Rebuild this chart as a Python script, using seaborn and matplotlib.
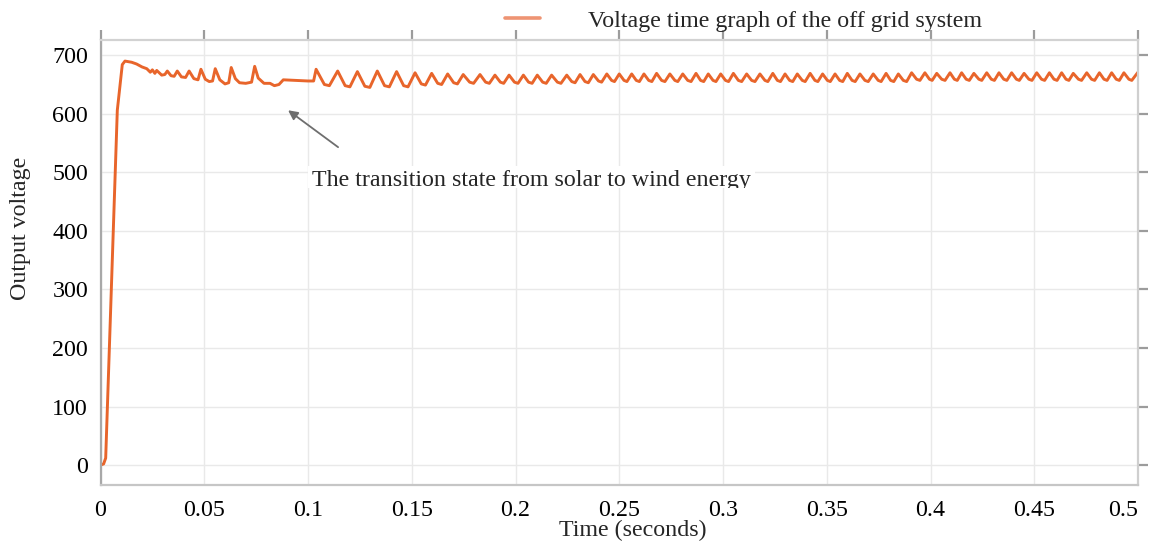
import matplotlib
matplotlib.use("Agg")
import matplotlib.pyplot as plt
import pandas as pd
import seaborn as sns
from matplotlib.transforms import Bbox, TransformedBbox

# ---------------- data ----------------
startup_t = [0.0, 0.0015, 0.0025, 0.0081, 0.0105, 0.0118, 0.0150, 0.0174, 0.0200, 0.0223,
             0.0240, 0.0250, 0.0262, 0.0271, 0.0295, 0.0310, 0.0322, 0.0340, 0.0355, 0.0370,
             0.0390, 0.0410, 0.0427, 0.0450, 0.0470, 0.0484, 0.0505, 0.0524, 0.0540, 0.0553,
             0.0575, 0.0600, 0.0618, 0.0630, 0.0650, 0.0670, 0.0700, 0.0728, 0.0743, 0.0760,
             0.0788, 0.0817, 0.0838, 0.0860, 0.0881, 0.0945, 0.1000, 0.1027]
startup_v = [0, 2, 12, 606, 684, 690, 688, 685, 680, 677,
             671, 675, 669, 674, 666, 667, 673, 665, 664, 673,
             663, 662, 673, 660, 658, 676, 659, 655, 656, 677,
             658, 651, 653, 679, 660, 653, 652, 654, 681, 661,
             652, 652, 648, 650, 658, 657, 656, 656]

peak_t = [0.1039, 0.1143, 0.1238, 0.1334, 0.1427, 0.1516, 0.1596, 0.1673, 0.1748, 0.1829,
          0.1901, 0.1969, 0.2038, 0.2105, 0.2174, 0.2247, 0.2311, 0.2375, 0.2440, 0.2500,
          0.2560, 0.2619, 0.2680, 0.2744, 0.2806, 0.2870, 0.2929, 0.2989, 0.3050, 0.3114,
          0.3178, 0.3240, 0.3299, 0.3358, 0.3420, 0.3480, 0.3540, 0.3599, 0.3660, 0.3724,
          0.3786, 0.3845, 0.3909, 0.3973, 0.4030, 0.4094, 0.4150, 0.4209, 0.4271, 0.4330,
          0.4391, 0.4451, 0.4512, 0.4573, 0.4632, 0.4688, 0.4753, 0.4814, 0.4873, 0.4932,
          0.5000]
peak_v = [676, 673, 672, 673, 672, 670, 669, 668, 667, 667,
          666, 666, 666, 666, 666, 666, 667, 667, 668, 668,
          668, 668, 669, 668, 668, 669, 668, 668, 669, 668,
          668, 669, 668, 668, 669, 668, 668, 669, 668, 668,
          669, 668, 670, 670, 669, 670, 670, 669, 670, 670,
          670, 669, 670, 670, 670, 669, 670, 670, 670, 670,
          671]

trough_t = [0.1079, 0.1103, 0.1179, 0.1202, 0.1274, 0.1298, 0.1369, 0.1392, 0.1461, 0.1482,
            0.1546, 0.1566, 0.1625, 0.1644, 0.1702, 0.1720, 0.1779, 0.1798, 0.1856, 0.1874,
            0.1927, 0.1943, 0.1995, 0.2012, 0.2063, 0.2080, 0.2131, 0.2148, 0.2202, 0.2219,
            0.2271, 0.2287, 0.2335, 0.2351, 0.2400, 0.2415, 0.2463, 0.2477, 0.2523, 0.2537,
            0.2582, 0.2597, 0.2642, 0.2657, 0.2704, 0.2720, 0.2768, 0.2782, 0.2830, 0.2846,
            0.2892, 0.2907, 0.2952, 0.2966, 0.3012, 0.3027, 0.3074, 0.3090, 0.3138, 0.3154,
            0.3202, 0.3216, 0.3262, 0.3277, 0.3321, 0.3336, 0.3382, 0.3396, 0.3443, 0.3457,
            0.3503, 0.3517, 0.3562, 0.3577, 0.3622, 0.3637, 0.3684, 0.3700, 0.3748, 0.3762,
            0.3808, 0.3823, 0.3869, 0.3885, 0.3933, 0.3949, 0.3995, 0.4008, 0.4054, 0.4070,
            0.4115, 0.4129, 0.4172, 0.4187, 0.4233, 0.4247, 0.4293, 0.4308, 0.4353, 0.4368,
            0.4414, 0.4428, 0.4474, 0.4489, 0.4535, 0.4550, 0.4595, 0.4610, 0.4653, 0.4667,
            0.4713, 0.4728, 0.4776, 0.4791, 0.4836, 0.4851, 0.4895, 0.4910, 0.4956, 0.4970]
trough_v = [650, 648, 648, 646, 647, 645, 648, 646, 648, 646,
            651, 649, 652, 650, 653, 651, 654, 652, 654, 652,
            654, 652, 654, 652, 654, 652, 654, 652, 654, 652,
            655, 653, 655, 653, 656, 654, 657, 655, 657, 655,
            657, 655, 657, 655, 657, 655, 657, 655, 657, 655,
            657, 655, 657, 655, 657, 655, 657, 655, 657, 655,
            657, 655, 657, 655, 657, 655, 657, 655, 657, 655,
            657, 655, 657, 655, 657, 655, 657, 655, 657, 655,
            657, 655, 657, 655, 659, 657, 659, 657, 659, 657,
            659, 657, 659, 657, 659, 657, 659, 657, 659, 657,
            659, 657, 659, 657, 659, 657, 659, 657, 659, 657,
            659, 657, 659, 657, 659, 657, 659, 657, 659, 657]

x_ticks = [0, 0.05, 0.1, 0.15, 0.2, 0.25, 0.3, 0.35, 0.4, 0.45, 0.5]
x_tick_labels = ["0", "0.05", "0.1", "0.15", "0.2", "0.25", "0.3", "0.35", "0.4", "0.45", "0.5"]
y_ticks = [0, 100, 200, 300, 400, 500, 600, 700]
y_tick_labels = ["0", "100", "200", "300", "400", "500", "600", "700"]

series_label = "Voltage time graph of the off grid system"
annotation_text = "The transition state from solar to wind energy"
x_label = "Time (seconds)"
y_label = "Output voltage"

# ---------------- build table ----------------
df = pd.DataFrame({
    "t": startup_t + peak_t + trough_t,
    "v": startup_v + peak_v + trough_v,
}).sort_values("t").reset_index(drop=True)

# ---------------- style ----------------
sns.set_theme(style="white")
plt.rcParams["font.family"] = ["Liberation Serif", "DejaVu Serif"]
FS = 17.3
line_color = "#E8652B"

W, H = 1153, 554
fig = plt.figure(figsize=(W / 100, H / 100), dpi=100)
left, right, top, bottom = 100.5, 1138, 40, 485
ax = fig.add_axes([left / W, 1 - bottom / H, (right - left) / W, (bottom - top) / H])

ax.grid(True, color="#E9E9E9", lw=1.0)
ax.set_axisbelow(True)

sns.lineplot(data=df, x="t", y="v", color=line_color, linewidth=2.1,
             label=series_label, estimator=None, sort=False, ax=ax)

ax.set_xlim(0, 0.5)
ax.set_ylim(-34, 726)
ax.set_xticks(x_ticks)
ax.set_xticklabels(x_tick_labels)
ax.set_yticks(y_ticks)
ax.set_yticklabels(y_tick_labels)

ax.tick_params(axis="both", direction="out", length=7, width=1.6, color="#9C9C9C",
               labelsize=FS, labelcolor="black", top=True, right=True,
               labeltop=False, labelright=False)
ax.tick_params(axis="x", pad=4)
ax.tick_params(axis="y", pad=2)
ax.get_xticklabels()[-1].set_horizontalalignment("right")

for side, col in [("left", "#A8A8A8"), ("bottom", "#C6C6C6"), ("top", "#D2D2D2"), ("right", "#CFCFCF")]:
    ax.spines[side].set_visible(True)
    ax.spines[side].set_color(col)
    ax.spines[side].set_linewidth(1.6)

ax.set_xlabel(x_label, fontsize=FS)
ax.xaxis.set_label_coords(0.513, (bottom - 520) / (bottom - top))
ax.set_ylabel(y_label, fontsize=FS)
ax.yaxis.label.set_verticalalignment("center")
ax.yaxis.set_label_coords((21 - left) / (right - left), (bottom - 228) / (bottom - top))

# legend above the plot
leg = ax.legend(loc="center left", bbox_to_anchor=(505 / W, 1 - 21 / H),
                bbox_transform=fig.transFigure, frameon=False, handlelength=1.45,
                handletextpad=2.0, borderpad=0, borderaxespad=0, fontsize=FS)
for ln in leg.get_lines():
    ln.set_color("#EE9473")
    ln.set_linewidth(2.6)

# annotation arrow and text
ax.annotate("", xy=(0.0904, 606), xytext=(0.1145, 543),
            arrowprops=dict(arrowstyle="-|>", color="#6E6E6E", lw=1.3,
                            mutation_scale=14, shrinkA=0, shrinkB=0))
txt = ax.text(0.1020, 476, annotation_text, fontsize=FS, ha="left", va="baseline",
              bbox=dict(facecolor="white", edgecolor="none", pad=3), zorder=4)
clip = TransformedBbox(Bbox.from_extents(0, 1 - 188 / H, 1, 1), fig.transFigure)
txt.set_clip_on(True)
txt.set_clip_box(clip)

fig.savefig("out.png", dpi=100, facecolor="white")
